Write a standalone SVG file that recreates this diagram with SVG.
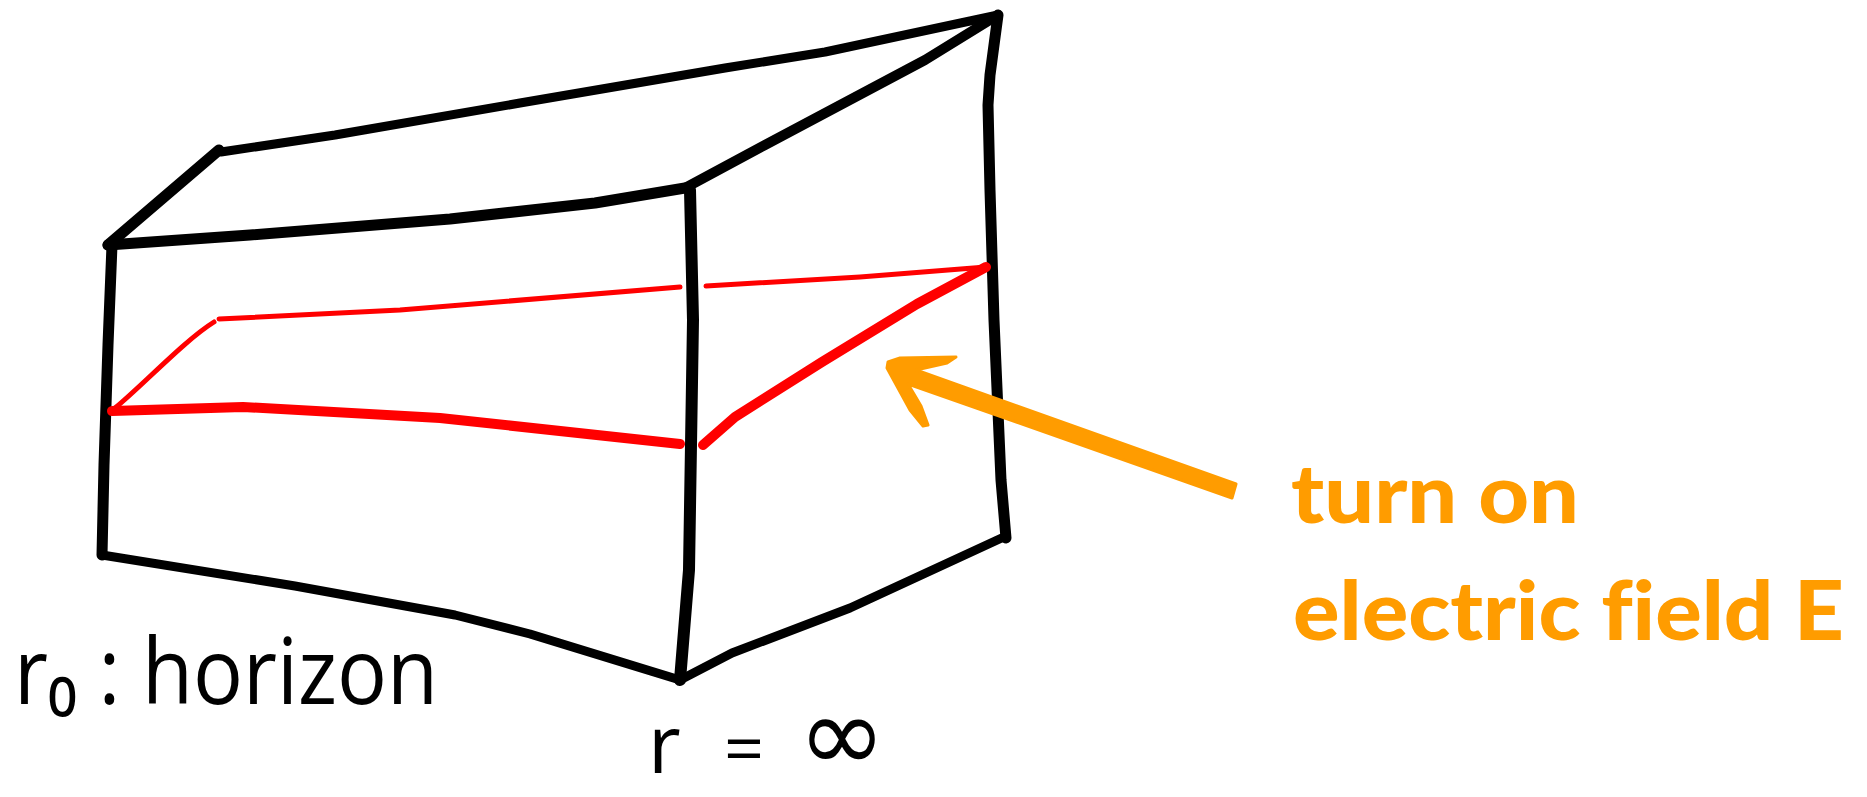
<svg xmlns="http://www.w3.org/2000/svg" width="1867" height="797" viewBox="0 0 1867 797">
<style>
.k{fill:none;stroke:#000;stroke-linecap:round;stroke-linejoin:round}
.r{fill:none;stroke:#f00;stroke-linecap:round;stroke-linejoin:round}
.h{font-family:"Open Sans","DejaVu Sans",sans-serif;font-weight:400;fill:#000}
.o{font-family:Lato,"Open Sans",sans-serif;font-weight:900;fill:#ff9c00;font-size:82px;font-variant-ligatures:none}
</style>
<rect width="1867" height="797" fill="#fff"/>
<g id="connectors">
<path class="k" stroke-width="9" d="M221 152L335 135L520 103L725 68L825 52L998 15"/>
<path class="k" stroke-width="11" d="M108 245L219 150"/>
<path class="k" stroke-width="11" d="M108 245L250 235L450 219L595 203L685 188"/>
<path class="k" stroke-width="10" d="M685 188L765 145L925 60L998 15"/>
<path class="k" stroke-width="11" d="M998 15L990 75L988 105L990 190L994 320L1001 480L1006 538"/>
<path class="k" stroke-width="11" d="M112 245L108 345L104 465L102 555"/>
<path class="k" stroke-width="12" d="M690 190L693 320L689 570L680 680"/>
<path class="k" stroke-width="9" d="M102 555L295 586L455 615L530 634L680 680"/>
<path class="k" stroke-width="9" d="M680 680L732 653L850 608L1006 536"/>
<path class="r" stroke-width="5" d="M115 408C143 385 185 340 214 322"/>
<path class="r" stroke-width="5" d="M219 319L400 310L680 287"/>
<path class="r" stroke-width="5" d="M706 286L860 277L986 267"/>
<path class="r" stroke-width="10" d="M112 411L243 407L440 418L680 444"/>
<path class="r" stroke-width="10" d="M703 445L735 417L822 362L917 304L986 267"/>
<path d="M1236 484L1232 498L908 384L921 406L928 425L923 426L910 410L887 368L888 362L900 358L956 357L947 363L916 370Z" fill="#ff9c00" stroke="#ff9c00" stroke-width="3" stroke-linejoin="round"/>
</g>
<g id="label-horizon"><text class="h" x="14" y="704" font-size="92" textLength="424" lengthAdjust="spacingAndGlyphs">r₀ : horizon</text></g>
<g id="label-infinity"><text class="h" font-size="80" y="773"><tspan x="648">r</tspan><tspan x="724" font-size="70">=</tspan><tspan x="798" y="771" font-family="'DejaVu Sans',sans-serif" font-size="106">∞</tspan></text></g>
<g id="label-field"><text class="o" x="1291" y="523" textLength="288" lengthAdjust="spacingAndGlyphs">turn on</text><text class="o" x="1293" y="640" textLength="551" lengthAdjust="spacingAndGlyphs">electric field E</text></g>
</svg>
